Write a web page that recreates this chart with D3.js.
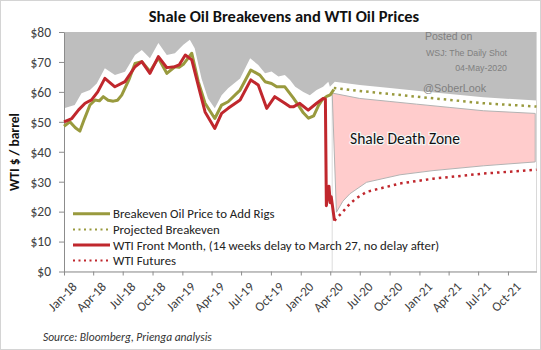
<!DOCTYPE html>
<html>
<head>
<meta charset="utf-8">
<script src="https://cdn.jsdelivr.net/npm/d3@7"></script>
<style>
  body { margin: 0; background: #fff; }
  text { font-family: Carlito, Lato, "Open Sans", sans-serif; }
</style>
</head>
<body>
<div id="chart"></div>
<script>
// ---- data ----
const beDates = ["2018-01-01","2018-01-19","2018-02-05","2018-02-19","2018-03-05","2018-03-22","2018-04-07","2018-04-20","2018-05-02","2018-05-17","2018-06-02","2018-06-15","2018-06-28","2018-07-20","2018-08-08","2018-08-29","2018-09-23","2018-10-19","2018-11-14","2018-12-09","2018-12-22","2019-01-04","2019-01-30","2019-02-19","2019-03-12","2019-04-11","2019-05-02","2019-05-22","2019-06-28","2019-07-31","2019-08-28","2019-09-13","2019-10-03","2019-10-19","2019-11-13","2019-12-09","2019-12-25","2020-01-09","2020-01-25","2020-02-10","2020-02-25","2020-03-08","2020-03-21","2020-04-01","2020-04-12"]
const beValues = [48.5,50.0,48.0,46.9,51.0,55.6,57.3,57.0,58.4,57.2,56.9,57.2,58.9,64.0,69.5,70.1,66.8,71.3,66.2,68.4,68.2,69.2,72.9,63.4,56.2,51.1,55.6,56.7,60.6,67.3,65.6,63.4,62.8,61.7,61.7,58.0,55.5,53.0,51.2,52.0,55.5,57.5,58.5,59.0,60.8]

const wtiDates = ["2018-01-01","2018-01-25","2018-02-15","2018-03-07","2018-03-27","2018-04-15","2018-05-07","2018-06-07","2018-07-08","2018-08-08","2018-08-29","2018-09-23","2018-10-19","2018-11-14","2018-12-09","2018-12-22","2019-01-10","2019-01-30","2019-02-24","2019-03-12","2019-04-11","2019-05-02","2019-05-22","2019-06-28","2019-07-31","2019-08-23","2019-09-18","2019-10-13","2019-11-13","2019-11-29","2019-12-09","2019-12-29","2020-01-04","2020-01-24","2020-02-19","2020-03-10","2020-03-17","2020-03-20","2020-03-28","2020-04-01","2020-04-04","2020-04-14"]
const wtiValues = [50.0,51.1,54.0,56.2,57.3,60.0,64.5,61.7,63.4,68.4,70.1,66.2,71.8,68.1,68.4,69.0,72.3,70.7,60.0,53.3,47.8,52.8,54.5,57.3,64.0,62.3,54.5,58.4,56.2,55.0,55.0,56.2,55.6,53.9,56.2,57.8,57.6,22.0,28.5,23.0,25.0,17.0]

const projDates = ["2020-04-12","2020-07-01","2020-10-02","2020-12-23","2021-04-05","2021-07-17","2021-12-28"]
const projValues = [61.3,60.3,59.3,58.4,57.3,56.2,55.1]

const futDates = ["2020-04-14","2020-05-10","2020-06-01","2020-06-21","2020-07-22","2020-11-02","2021-02-12","2021-07-17","2021-12-28"]
const futValues = [17.0,20.0,22.7,24.5,26.6,29.4,31.0,32.7,34.0]

// upper edge of the white band (grey above it)
const envDates = ["2018-01-01","2018-02-03","2018-02-24","2018-03-22","2018-04-12","2018-05-07","2018-06-07","2018-07-08","2018-08-08","2018-08-29","2018-09-23","2018-10-19","2018-11-14","2018-12-09","2019-01-04","2019-01-24","2019-02-08","2019-03-01","2019-03-21","2019-04-11","2019-05-02","2019-05-22","2019-06-28","2019-07-29","2019-08-23","2019-09-13","2019-10-03","2019-10-24","2019-11-13","2019-11-29","2019-12-15","2020-01-09","2020-01-29","2020-02-19","2020-03-10","2020-03-26","2020-03-31","2020-04-15","2020-07-01","2020-10-02","2020-12-23","2021-04-05","2021-07-17","2021-12-28"]
const envValues = [54.5,55.6,59.5,60.6,62.8,67.9,65.6,66.7,72.3,74.0,71.2,76.3,72.3,72.9,75.7,77.4,74.6,64.5,57.8,54.5,58.9,61.2,64.5,71.2,69.0,66.2,66.8,65.1,65.6,64.0,61.7,60.0,58.9,60.6,61.7,63.4,61.7,63.4,62.3,61.3,60.4,59.3,58.2,57.1]

// "Shale Death Zone"
const zoneTopDates = ["2020-04-07","2020-07-01","2020-10-02","2020-12-23","2021-04-05","2021-07-17","2021-12-24"]
const zoneTop = [59.6,57.8,56.8,55.9,54.8,53.7,52.8]
const zoneBottomDates = ["2020-04-20","2020-05-10","2020-06-01","2020-07-22","2020-11-02","2021-02-12","2021-07-17","2021-12-24"]
const zoneBottom = [19.8,23.5,26.0,29.8,32.3,33.7,35.3,36.6]

const forecastStart = "2020-04-07"

const xTickDates = ["2018-01-01","2018-04-01","2018-07-01","2018-10-01","2019-01-01","2019-04-01","2019-07-01","2019-10-01","2020-01-01","2020-04-01","2020-07-01","2020-10-01","2021-01-01","2021-04-01","2021-07-01","2021-10-01"]
const yTicks = [0,10,20,30,40,50,60,70,80]

const legendLabels = ["Breakeven Oil Price to Add Rigs","Projected Breakeven","WTI Front Month, (14 weeks delay to March 27, no delay after)","WTI Futures"]

// ---- drawing ----
const parse = d3.timeParse("%Y-%m-%d")
const W = 541, H = 350
const margin = {top: 32, right: 4.5, bottom: 78.5, left: 64}
const olive = "#999a3e", red = "#c0272d"

const svg = d3.select("#chart").append("svg")
  .attr("width", W).attr("height", H)

svg.append("rect").attr("x", 0.5).attr("y", 0.5).attr("width", W - 1).attr("height", H - 1)
  .attr("fill", "#fff").attr("stroke", "#d4d4d4")

const x = d3.scaleTime()
  .domain([parse("2018-01-01"), parse("2021-12-28")])
  .range([margin.left, W - margin.right])
const y = d3.scaleLinear()
  .domain([0, 80])
  .range([H - margin.bottom, margin.top])

function pts(dates, vals) { return dates.map(function(d, i) { return {date: parse(d), v: vals[i]} }) }

// grey background of plot
svg.append("rect")
  .attr("x", x.range()[0]).attr("y", y(80))
  .attr("width", x.range()[1] - x.range()[0]).attr("height", y(0) - y(80))
  .attr("fill", "#bebebe")

// white band under the envelope
svg.append("path")
  .datum(pts(envDates, envValues))
  .attr("fill", "#fff")
  .attr("d", d3.area().x(d => x(d.date)).y0(y(0)).y1(d => y(d.v)))

// right edge of plot
svg.append("line")
  .attr("x1", x.range()[1]).attr("x2", x.range()[1]).attr("y1", y(80)).attr("y2", y(0))
  .attr("stroke", "#d9d9d9")

// forecast start line
svg.append("line")
  .attr("x1", x(parse(forecastStart))).attr("x2", x(parse(forecastStart)))
  .attr("y1", y(59)).attr("y2", y(0))
  .attr("stroke", "#dcdcdc")

// death zone
const zoneTopPts = pts(zoneTopDates, zoneTop)
const zoneBotPts = pts(zoneBottomDates, zoneBottom).reverse()
svg.append("path")
  .datum(zoneTopPts.concat(zoneBotPts))
  .attr("fill", "#ffcccc")
  .attr("stroke", "#b3b3b3")
  .attr("stroke-width", 1)
  .attr("d", d3.line().x(d => x(d.date)).y(d => y(d.v)).curve(d3.curveLinearClosed))

svg.append("text")
  .attr("x", 405).attr("y", 144)
  .attr("text-anchor", "middle")
  .attr("font-size", 15.5)
  .attr("fill", "#111")
  .attr("stroke", "#f4f4f4").attr("stroke-width", 2.5).attr("paint-order", "stroke")
  .text("Shale Death Zone")

// axes
const yAxis = svg.append("g")
  .attr("transform", "translate(" + margin.left + ",0)")
  .call(d3.axisLeft(y).tickValues(yTicks).tickFormat(d => "$" + d).tickSize(5).tickSizeOuter(0).tickPadding(8))
yAxis.select(".domain").attr("stroke", "#8c8c8c")
yAxis.selectAll(".tick line").attr("stroke", "#8c8c8c")
yAxis.selectAll("text").attr("font-size", 13.5).attr("fill", "#404040")
  .style("font-family", "Carlito, Lato, sans-serif")

const xAxis = svg.append("g")
  .attr("transform", "translate(0," + y(0) + ")")
  .call(d3.axisBottom(x).tickValues(xTickDates.map(parse)).tickFormat(d3.timeFormat("%b-%y")).tickSize(4).tickSizeOuter(0))
xAxis.select(".domain").attr("stroke", "#8c8c8c")
xAxis.selectAll(".tick line").attr("stroke", "#8c8c8c")
xAxis.selectAll("text")
  .attr("font-size", 13).attr("fill", "#404040")
  .style("font-family", "Carlito, Lato, sans-serif")
  .style("text-anchor", "end")
  .attr("x", -2).attr("y", 13).attr("dx", 0).attr("dy", "0.6em")
  .attr("transform", "rotate(-45)")

// lines
const line = d3.line().x(d => x(d.date)).y(d => y(d.v))

svg.append("path").datum(pts(projDates, projValues))
  .attr("fill", "none").attr("stroke", olive).attr("stroke-width", 2.5)
  .attr("stroke-dasharray", "2.5,4").attr("d", line)
svg.append("path").datum(pts(futDates, futValues))
  .attr("fill", "none").attr("stroke", red).attr("stroke-width", 2.5)
  .attr("stroke-dasharray", "2.5,4").attr("d", line)
svg.append("path").datum(pts(beDates, beValues))
  .attr("fill", "none").attr("stroke", olive).attr("stroke-width", 3)
  .attr("stroke-linejoin", "round").attr("d", line)
svg.append("path").datum(pts(wtiDates, wtiValues))
  .attr("fill", "none").attr("stroke", red).attr("stroke-width", 3)
  .attr("stroke-linejoin", "round").attr("d", line)

// legend
const legendY = [213.8, 229.4, 245, 260.6]
const legendStyle = [
  {color: olive, dash: null},
  {color: olive, dash: "2,3.5"},
  {color: red, dash: null},
  {color: red, dash: "2,3.5"}
]
legendLabels.forEach(function(label, i) {
  svg.append("line")
    .attr("x1", 73).attr("x2", 110).attr("y1", legendY[i]).attr("y2", legendY[i])
    .attr("stroke", legendStyle[i].color).attr("stroke-width", legendStyle[i].dash ? 2 : 3)
    .attr("stroke-dasharray", legendStyle[i].dash)
  svg.append("text")
    .attr("x", 113).attr("y", legendY[i] + 4.6)
    .attr("font-size", 12.8).attr("fill", "#222")
    .text(label)
})

// titles and notes
svg.append("text")
  .attr("x", 284).attr("y", 21.5)
  .attr("text-anchor", "middle")
  .attr("font-size", 16.5).attr("font-weight", "bold").attr("fill", "#111")
  .text("Shale Oil Breakevens and WTI Oil Prices")

svg.append("text")
  .attr("transform", "translate(19,152) rotate(-90)")
  .attr("text-anchor", "middle")
  .attr("font-size", 13.5).attr("font-weight", "bold").attr("fill", "#111")
  .text("WTI $ / barrel")

svg.append("text")
  .attr("x", 43).attr("y", 341)
  .attr("font-size", 11.5).attr("font-style", "italic").attr("fill", "#333")
  .text("Source: Bloomberg, Prienga analysis")

const wm = svg.append("g").attr("fill", "#808080")
wm.append("text").attr("x", 425).attr("y", 40).attr("font-size", 10.5).style("font-family", "'Liberation Sans', Arial, sans-serif").text("Posted on")
wm.append("text").attr("x", 507).attr("y", 55.5).attr("text-anchor", "end").attr("font-size", 8.8).style("font-family", "'Liberation Sans', Arial, sans-serif").text("WSJ: The Daily Shot")
wm.append("text").attr("x", 507).attr("y", 70.5).attr("text-anchor", "end").attr("font-size", 8.8).style("font-family", "'Liberation Sans', Arial, sans-serif").text("04-May-2020")
wm.append("text").attr("x", 423).attr("y", 91.5).attr("font-size", 10.8).style("font-family", "'Liberation Sans', Arial, sans-serif").text("@SoberLook")
</script>
</body>
</html>
